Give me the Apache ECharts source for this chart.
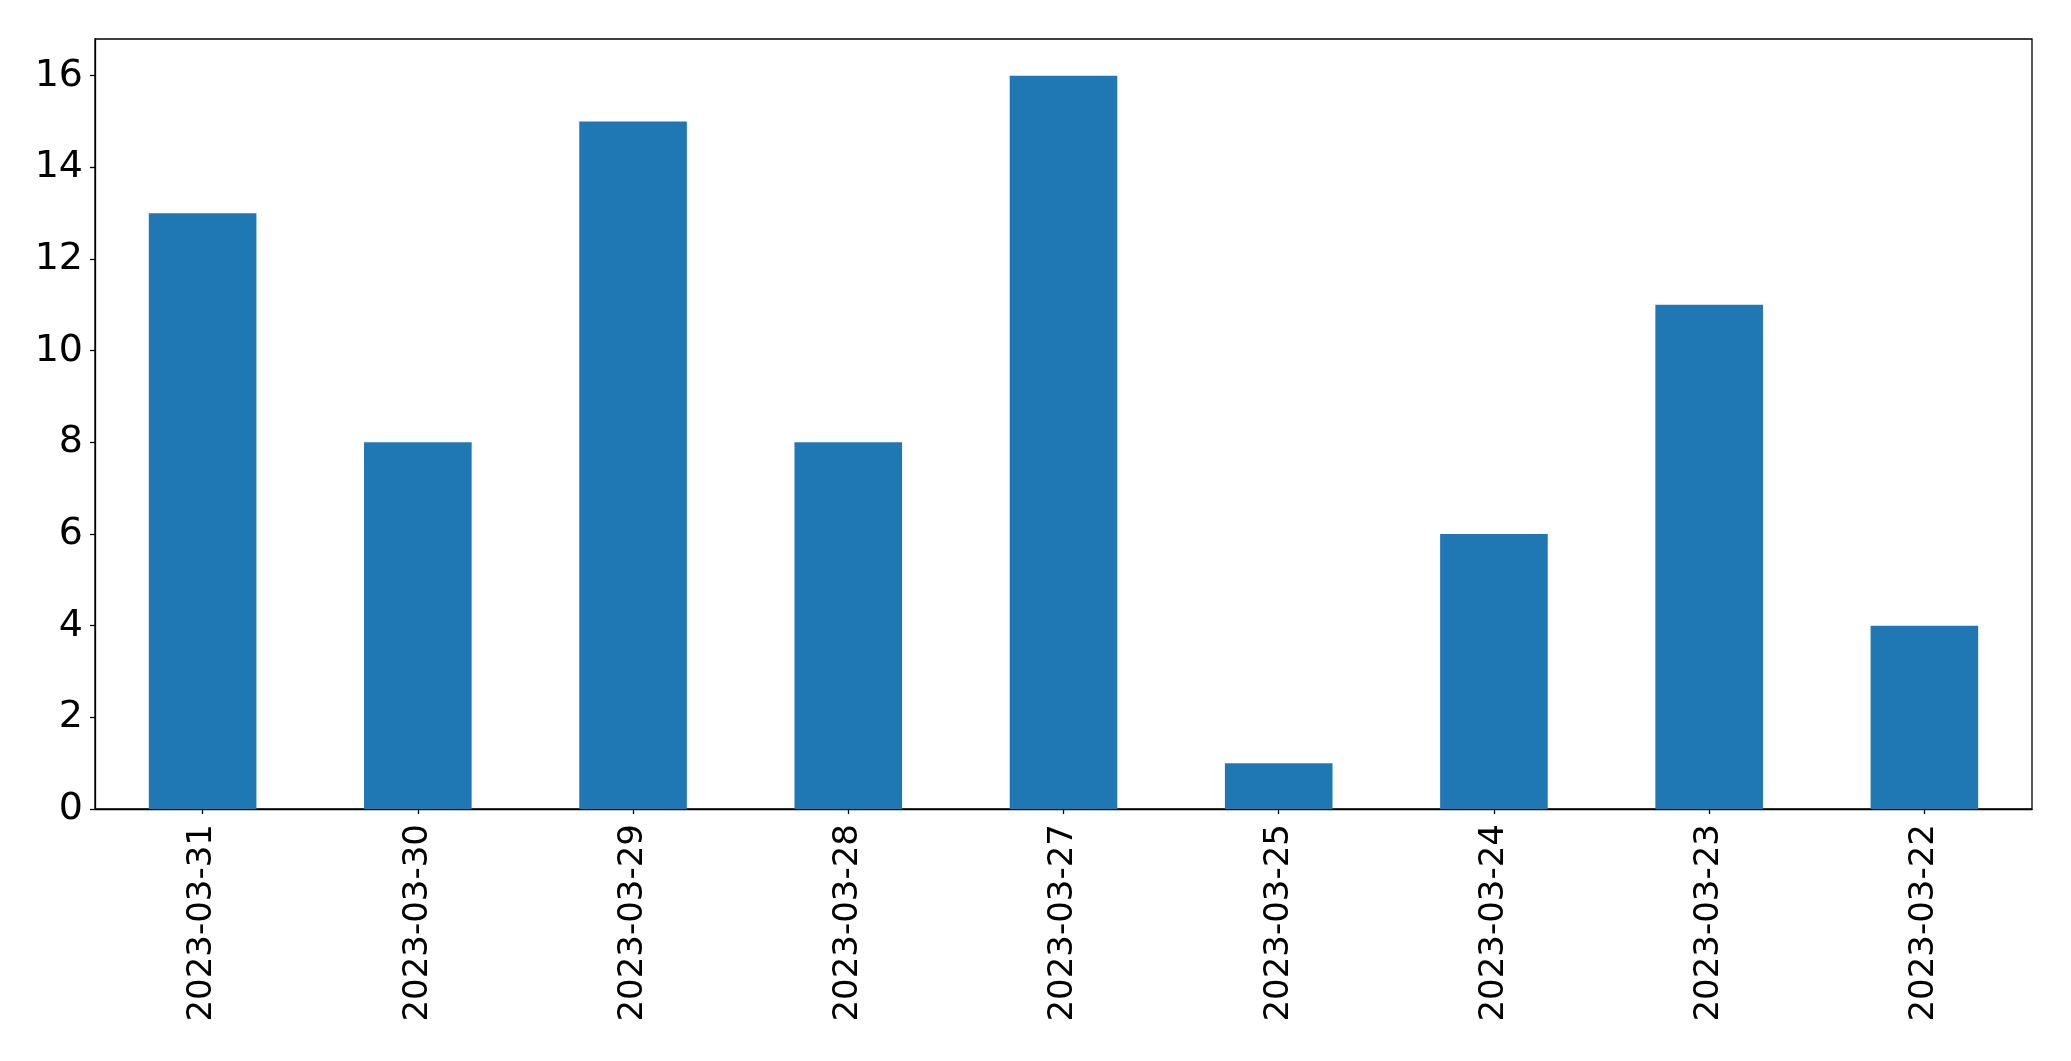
<!DOCTYPE html>
<html>
<head>
<meta charset="utf-8">
<script src="https://cdn.jsdelivr.net/npm/echarts@6/dist/echarts.min.js"></script>
<style>
html,body{margin:0;padding:0;background:#fff;}
#chart{width:2071px;height:1061px;}
</style>
</head>
<body>
<div id="chart"></div>
<script>
const categories = ['2023-03-31','2023-03-30','2023-03-29','2023-03-28','2023-03-27','2023-03-25','2023-03-24','2023-03-23','2023-03-22'];
const values = [13, 8, 15, 8, 16, 1, 6, 11, 4];
const yTicks = [0, 2, 4, 6, 8, 10, 12, 14, 16];
const yMax = 16.8;

const chart = echarts.init(document.getElementById('chart'), null, {renderer: 'canvas'});
const font = 'DejaVu Sans';
chart.setOption({
  animation: false,
  backgroundColor: '#ffffff',
  grid: {
    left: 95, right: 39, top: 39, bottom: 252,
    show: true, borderColor: '#000', borderWidth: 1.3, backgroundColor: 'transparent'
  },
  xAxis: {
    type: 'category',
    data: categories,
    boundaryGap: true,
    axisLine: {show: true, lineStyle: {color: '#000', width: 1.3}},
    axisTick: {show: true, alignWithLabel: true, length: 5, lineStyle: {color: '#000', width: 1.3}},
    axisLabel: {rotate: 90, margin: 15, color: '#000', fontFamily: font, fontSize: 34, interval: 0},
    splitLine: {show: false}
  },
  yAxis: {
    type: 'value',
    min: 0, max: yMax,
    axisLine: {show: true, lineStyle: {color: '#000', width: 1.3}},
    axisTick: {show: true, length: 5, customValues: yTicks, lineStyle: {color: '#000', width: 1.3}},
    axisLabel: {margin: 12, color: '#000', fontFamily: font, fontSize: 38, customValues: yTicks},
    splitLine: {show: false}
  },
  series: [{
    type: 'bar',
    data: values,
    barWidth: '50%',
    itemStyle: {color: '#1f77b4'}
  }]
});
</script>
</body>
</html>
